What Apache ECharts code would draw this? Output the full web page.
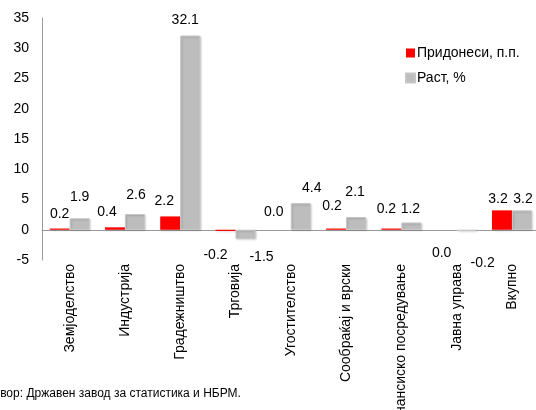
<!DOCTYPE html>
<html>
<head>
<meta charset="utf-8">
<script src="https://cdn.jsdelivr.net/npm/echarts@6/dist/echarts.min.js"></script>
<style>
  html, body { margin: 0; padding: 0; background: #fff; }
  #chart { width: 536px; height: 410px; }
</style>
</head>
<body>
<div id="chart"></div>
<script>
// Sectors of the economy
const categories = [
  'Земјоделство', 'Индустрија', 'Градежништво', 'Трговија', 'Угостителство',
  'Сообраќај и врски', 'Финансиско посредување', 'Јавна управа', 'Вкупно'
];
// Contribution to growth, percentage points
const contributions = [0.2, 0.4, 2.2, -0.2, 0.0, 0.2, 0.2, 0.0, 3.2];
// Real growth, %
const growth = [1.9, 2.6, 32.1, -1.5, 4.4, 2.1, 1.2, -0.2, 3.2];
// Y axis ticks
const yMin = -5, yMax = 35, yStep = 5;

// Label nudges [dx, dy] and side ('top' / 'bottom') for each value label
const contribLabelSide = ['top', 'top', 'top', 'bottom', 'top', 'top', 'top', 'bottom', 'top'];
const contribLabelNudge = [[0, 1], [-8, 0], [-6, 0], [-10, 9], [-7, -3], [-4, -7], [-5, -4], [-5, 8], [-4, 4]];
const growthLabelSide = ['top', 'top', 'top', 'bottom', 'top', 'top', 'top', 'bottom', 'top'];
const growthLabelNudge = [[0, -6], [1, -4], [-5, 0], [16, 3], [11, 0], [-1, -10], [-1, 2], [16, 17], [1, 4]];

const FONT = 'Tahoma, "Liberation Sans", Arial, sans-serif';

function buildItems(values, sides, nudges) {
  return values.map((v, i) => ({
    value: v,
    label: { position: sides[i], offset: nudges[i] }
  }));
}

const chart = echarts.init(document.getElementById('chart'), null, { renderer: 'canvas' });

chart.setOption({
  animation: false,
  textStyle: { fontFamily: FONT },
  grid: {
    left: 42, top: 18, width: 497.6, height: 242,
    containLabel: false,
    outerBoundsMode: 'none'
  },
  legend: {
    orient: 'vertical',
    left: 400,
    top: 41,
    itemWidth: 9,
    itemHeight: 9,
    itemGap: 11,
    icon: 'rect',
    textStyle: { fontFamily: FONT, fontSize: 14, color: '#000', padding: [0, 0, 0, -3] },
    data: ['Придонеси, п.п.', 'Раст, %']
  },
  xAxis: {
    type: 'category',
    data: categories,
    axisLine: { onZero: true, lineStyle: { color: '#9a9a9a', width: 1 } },
    axisTick: { show: false },
    axisLabel: {
      rotate: 90,
      interval: 0,
      margin: 4,
      hideOverlap: false,
      overflow: 'none',
      width: 400,
      fontFamily: FONT,
      fontSize: 14,
      color: '#000'
    },
    splitLine: { show: false }
  },
  yAxis: {
    type: 'value',
    min: yMin,
    max: yMax,
    interval: yStep,
    axisLine: { show: true, lineStyle: { color: '#9a9a9a', width: 1 } },
    axisTick: { show: false },
    splitLine: { show: false },
    axisLabel: { fontFamily: FONT, fontSize: 14, color: '#000', margin: 13 }
  },
  series: [
    {
      name: 'Придонеси, п.п.',
      type: 'bar',
      barWidth: 20,
      barGap: '0%',
      data: buildItems(contributions, contribLabelSide, contribLabelNudge),
      itemStyle: {
        color: '#ff0000',
        shadowColor: 'rgba(0,0,0,0.18)',
        shadowBlur: 2,
        shadowOffsetX: 1,
        shadowOffsetY: 1
      },
      label: {
        show: true,
        distance: 8,
        fontFamily: FONT,
        fontSize: 14,
        color: '#000',
        formatter: p => p.value.toFixed(1)
      }
    },
    {
      name: 'Раст, %',
      type: 'bar',
      barWidth: 20,
      data: buildItems(growth, growthLabelSide, growthLabelNudge),
      itemStyle: {
        color: '#bdbdbd',
        borderColor: '#c6c6c6',
        borderWidth: 1,
        shadowColor: 'rgba(0,0,0,0.18)',
        shadowBlur: 2,
        shadowOffsetX: 1,
        shadowOffsetY: 1
      },
      label: {
        show: true,
        distance: 8,
        fontFamily: FONT,
        fontSize: 14,
        color: '#000',
        formatter: p => p.value.toFixed(1)
      }
    }
  ],
  graphic: [
    {
      type: 'text',
      left: -14,
      top: 388,
      style: {
        text: 'Извор: Државен завод за статистика и НБРМ.',
        font: '12px ' + FONT,
        fill: '#000'
      }
    }
  ]
});
</script>
</body>
</html>
